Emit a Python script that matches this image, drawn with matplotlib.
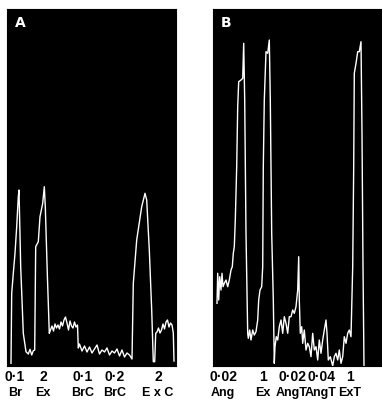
import matplotlib.pyplot as plt
from matplotlib.transforms import blended_transform_factory

# trazas (tiempo, señal) en unidades arbitrarias
tiempo_a = [4.0, 4.7, 6.3, 8.0, 9.7, 11.3, 12.0, 13.7, 16.3, 19.0, 21.3, 23.0, 24.7, 26.3, 27.7,
            28.7, 31.3, 33.0, 35.7, 37.3, 38.3, 40.3, 42.3,
            43.5, 45, 46.5, 48, 49.5, 51, 52.5, 54, 55.5, 57, 58.5, 60, 61.5, 63, 64.5, 66, 67.5, 69, 70.5, 71.3,
            72.5, 75, 77.5, 80, 82.5, 85, 87.5, 90, 92.5, 95, 97.5, 100, 102.5, 105, 107.5, 110, 112.5,
            115, 117.5, 120, 122.5, 125,
            126.3, 129.7, 134.7, 138.0, 139.7, 142.3, 144.7, 146.3, 147.7, 148.7,
            150, 151.5, 153, 154.5, 156, 157.5, 159, 160.5, 162, 163.5, 165, 166.3, 167]
senal_a = [2.7, 72.7, 92.7, 112.7, 139.3, 169.3, 176.0, 99.3, 32.7, 14.3, 12.0, 16.7, 11.0, 15.3, 16.0,
           119.3, 124.3, 149.3, 162.7, 179.3, 159.3, 92.7, 32.7,
           36, 40, 35, 42, 38, 41, 37, 44, 40, 46, 49, 43, 36, 45, 40, 38, 44, 39, 41, 18,
           22, 15, 20, 14, 19, 13, 17, 21, 12, 16, 14, 18, 11, 15, 13, 17, 10,
           16, 9, 13, 11, 7,
           82.7, 126.0, 159.3, 172.7, 166.0, 116.0, 56.0, 4.3, 4.3, 32.7,
           34, 38, 33, 36, 42, 37, 44, 46, 39, 43, 41, 33, 5]

tiempo_b = [4.0, 4.7, 5.7, 6.7, 8.0, 9.0, 10.0, 11.3, 13.0, 14.7, 16.3, 18.0, 19.3, 20.3, 21.3,
            22.3, 23.7, 24.7, 25.7, 28.0, 29.7, 30.7, 31.7, 33.0, 34.7, 35.3, 36.7, 38.0, 39.7,
            41.3, 43.0, 44.7, 45.7, 47.0, 48.7, 49.7, 50.3, 51.3, 53.0, 54.7, 56.3, 57.3, 58.7,
            60.3, 61.3, 62.0, 63.3, 64.7, 66.3, 68.0, 69.7, 71.3, 73.0, 74.7, 76.3, 78.0, 79.7,
            81.3, 83.0, 84.7, 85.7, 86.3, 87.3, 88.7, 89.7, 91.3, 93.0, 94.7, 96.3, 98.0, 99.7,
            101.3, 103.0, 104.7, 106.3, 108.0, 109.7, 111.3, 113.0, 114.0, 115.3, 117.3, 119.7,
            121.3, 123.0, 124.7, 126.3, 128.0, 129.7, 131.3, 133.0, 134.7, 136.3, 138.0, 139.7,
            140.7, 141.3, 143.0, 144.7, 146.3, 148.0, 149.0, 150.0, 151.0]
senal_b = [62.7, 92.7, 66.0, 89.3, 76.0, 92.7, 79.3, 82.7, 86.0, 79.3, 86.0, 96.0, 99.3, 112.7, 119.3,
           146.0, 199.3, 259.3, 284.3, 286.0, 287.7, 322.7, 266.0, 132.7, 32.7, 27.7, 36.0, 26.0, 36.0,
           31.0, 34.3, 46.0, 66.0, 76.0, 79.3, 99.3, 199.3, 266.0, 314.3, 312.7, 326.0, 266.0, 132.7,
           66.0, 2.7, 19.3, 29.3, 26.0, 39.3, 46.0, 32.7, 49.3, 42.7, 32.7, 49.3, 49.3, 56.0,
           52.7, 59.3, 76.0, 109.3, 66.0, 32.7, 39.3, 22.7, 36.0, 16.0, 22.7, 19.3, 9.3, 32.7,
           16.0, 19.3, 6.0, 26.0, 12.7, 26.0, 36.0, 46.0, 32.7, 6.0, 9.3, 0.0,
           9.3, 12.7, 6.0, 16.0, 2.7, 9.3, 29.3, 22.7, 32.7, 36.0, 29.3, 99.3,
           199.3, 292.7, 302.7, 314.3, 314.3, 324.3, 232.7, 99.3, 0.0]

# etiquetas bajo cada panel
pos_a = [8, 36, 76, 108, 151]
dosis_a = ['0·1', '2', '0·1', '0·2', '2']
agente_a = ['Br', 'Ex', 'BrC', 'BrC', 'E x C']
pos_b = [10, 50, 79, 108, 137]
dosis_b = ['0·02', '1', '0·02', '0·04', '1']
agente_b = ['Ang', 'Ex', 'AngT', 'AngT', 'ExT']

fig = plt.figure(figsize=(3.82, 4.09), dpi=100)
fuente = ['Liberation Sans', 'DejaVu Sans']

paneles = [
    ([7 / 382, 43 / 409, 169 / 382, 357 / 409], tiempo_a, senal_a, 'A', pos_a, dosis_a, agente_a),
    ([213 / 382, 43 / 409, 169 / 382, 357 / 409], tiempo_b, senal_b, 'B', pos_b, dosis_b, agente_b),
]

for rect, t, s, letra, pos, dosis, agente in paneles:
    ax = fig.add_axes(rect)
    ax.set_facecolor('black')
    ax.plot(t, s, color='white', lw=1.0)
    ax.set_xlim(0, 169)
    ax.set_ylim(0, 357)
    ax.set_xticks([])
    ax.set_yticks([])
    for sp in ax.spines.values():
        sp.set_color('black')
    ax.text(0.08, 0.96, letra, transform=ax.transAxes, color='white', fontsize=10,
            fontweight='bold', ha='center', va='center', family='DejaVu Sans')
    tr = blended_transform_factory(ax.transData, ax.transAxes)
    for x, d, a in zip(pos, dosis, agente):
        ax.text(x, -0.031, d, transform=tr, ha='center', va='center', fontsize=10,
                fontweight='bold', family=fuente, clip_on=False)
        ax.text(x, -0.077, a, transform=tr, ha='center', va='center', fontsize=9,
                fontweight='bold', family=fuente, clip_on=False)

fig.savefig('out.png', dpi=100)
